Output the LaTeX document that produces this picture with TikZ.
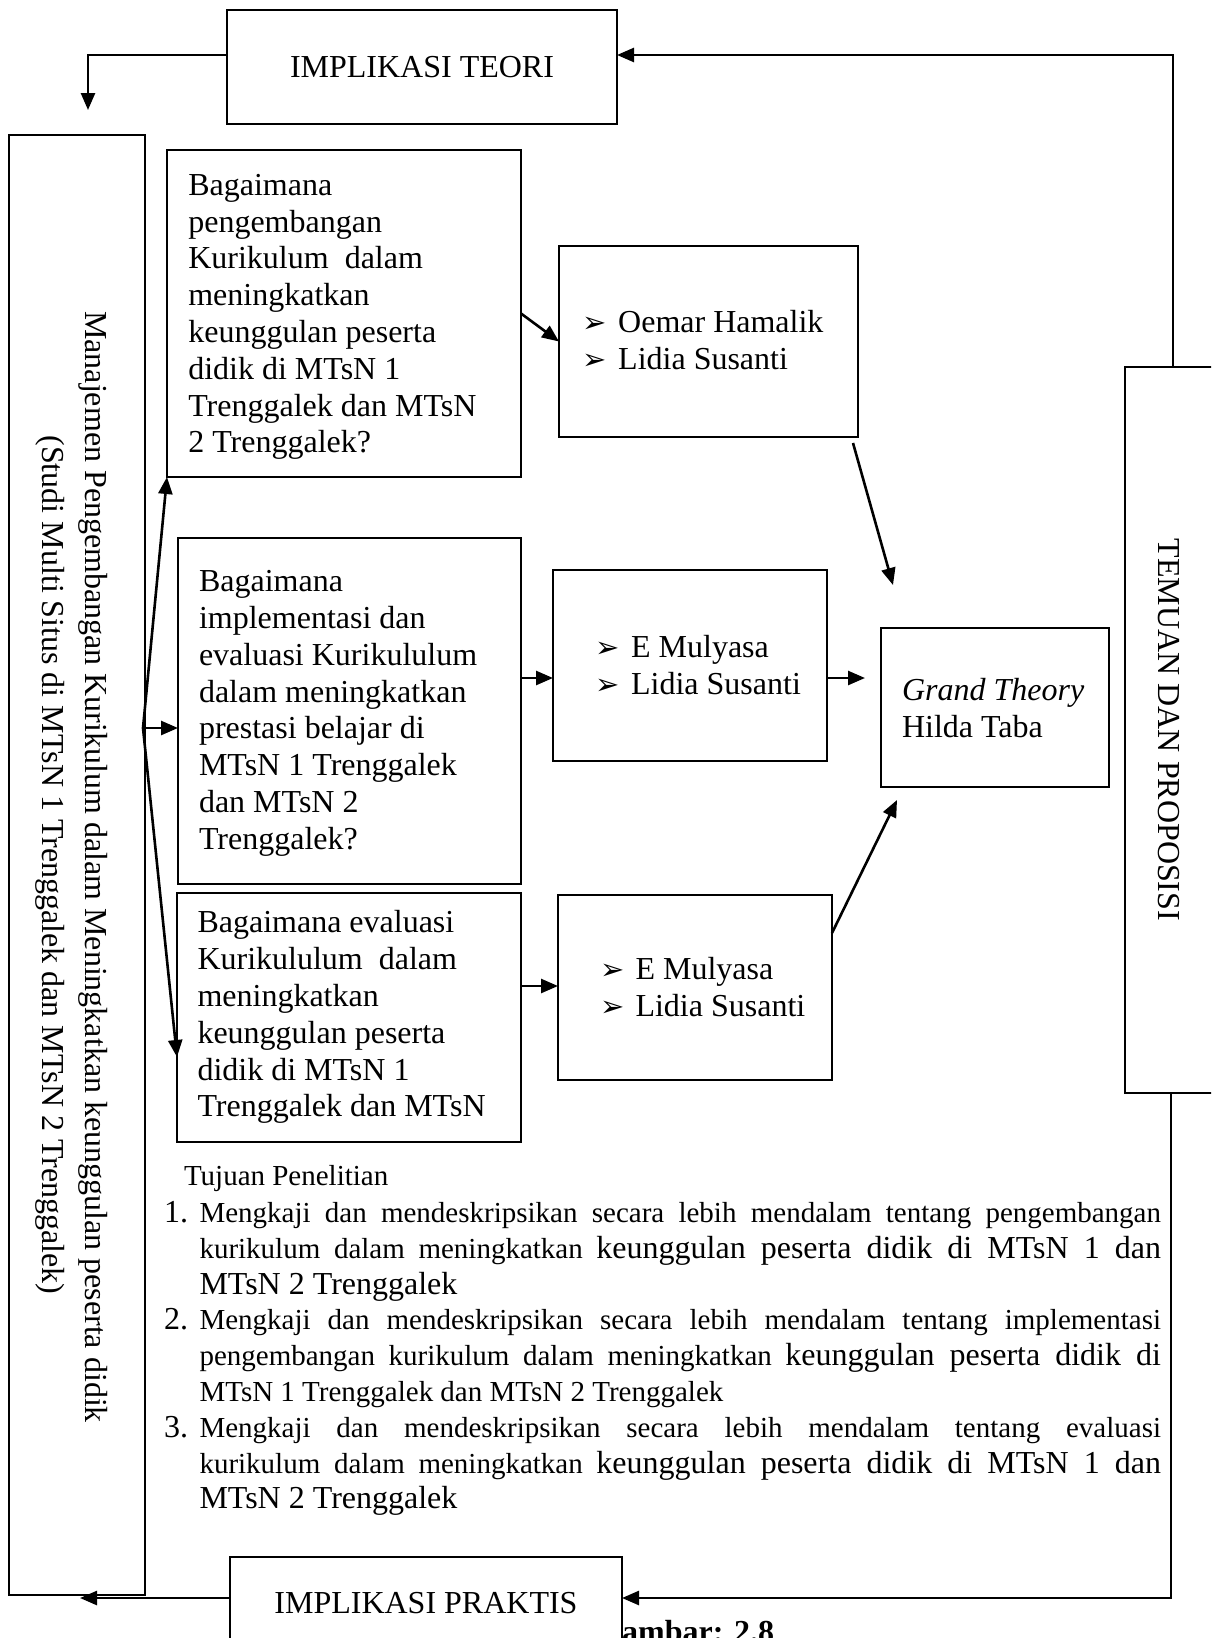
\documentclass[tikz,border=0pt]{standalone}
\usepackage{fontspec}
\setmainfont{Liberation Serif}
\newfontfamily\dejavu{DejaVu Sans}
\usetikzlibrary{arrows.meta}
\newcommand{\bigf}{\fontsize{32}{36.8}\selectfont}
\newcommand{\smallf}{\fontsize{29}{35.8}\selectfont}
\newcommand{\bul}{{\dejavu\fontsize{29}{29}\selectfont ➢}}
\newcommand{\bitem}[1]{\makebox[35.5pt][l]{\bul}#1}
\begin{document}
\begin{tikzpicture}[x=1pt,y=-1pt,
  box/.style={draw, line width=2.9pt, fill=white, inner sep=0pt, outer sep=0pt},
  conn/.style={line width=2.6pt, -{Triangle[length=17pt,width=14pt]}},
  txt/.style={inner sep=0pt, outer sep=0pt, font=\bigf, align=left, anchor=north west},
  lst/.style={inner sep=0pt, outer sep=0pt, anchor=base west, font=\smallf},
  rot/.style={inner sep=0pt, outer sep=0pt, rotate=-90, anchor=base, font=\bigf}]
\useasboundingbox (0,0) rectangle (1211,1638);
\clip (0,0) rectangle (1211,1638);
\fill[white] (0,0) rectangle (1211,1638);

% left tall box
\node[box, minimum width=136pt, minimum height=1460pt] (tall) at (77,865) {};
\node[rot] (tallA) at (85,867) {Manajemen Pengembangan Kurikulum dalam Meningkatkan keunggulan peserta didik};
\node[rot] (tallB) at (42,865) {(Studi Multi Situs di MTsN 1 Trenggalek dan MTsN 2 Trenggalek)};

% top box
\node[box, minimum width=390pt, minimum height=114pt, font=\bigf] (teori) at (422,67) {IMPLIKASI TEORI};

% question boxes
\node[box, minimum width=354pt, minimum height=327pt] (q1) at (344,313.5) {};
\node[txt] (q1t) at (188.3,169.6) {\strut Bagaimana\\pengembangan\\Kurikulum~ dalam\\meningkatkan\\keunggulan peserta\\didik di MTsN 1\\Trenggalek dan MTsN\\2 Trenggalek?};
\node[box, minimum width=343pt, minimum height=346pt] (q2) at (349.5,711) {};
\node[txt] (q2t) at (199,565.9) {\strut Bagaimana\\implementasi dan\\evaluasi Kurikululum\\dalam meningkatkan\\prestasi belajar di\\MTsN 1 Trenggalek\\dan MTsN 2\\Trenggalek?};
\node[box, minimum width=344pt, minimum height=249pt] (q3) at (349,1017.5) {};
\node[txt] (q3t) at (197.5,907.2) {\strut Bagaimana evaluasi\\Kurikululum~ dalam\\meningkatkan\\keunggulan peserta\\didik di MTsN 1\\Trenggalek dan MTsN};

% author boxes
\node[box, minimum width=299pt, minimum height=191pt] (a1) at (708.5,341.5) {};
\node[txt] (a1t) at (582.7,307.2) {\strut\bitem{Oemar Hamalik}\\\bitem{Lidia Susanti}};
\node[box, minimum width=274pt, minimum height=191pt] (a2) at (690,665.5) {};
\node[txt] (a2t) at (595.6,632.2) {\strut\bitem{E Mulyasa}\\\bitem{Lidia Susanti}};
\node[box, minimum width=274pt, minimum height=185pt] (a3) at (695,987.5) {};
\node[txt] (a3t) at (600,954.2) {\strut\bitem{E Mulyasa}\\\bitem{Lidia Susanti}};

% grand theory
\node[box, minimum width=228pt, minimum height=159pt] (gt) at (995,707.5) {};
\node[txt] (gtt) at (902,674.7) {\strut\textit{Grand Theory}\\Hilda Taba};

% right box
\node[box, minimum width=115pt, minimum height=726pt] (temuan) at (1182.5,730) {};
\node[rot] (temuanT) at (1158,730) {TEMUAN DAN PROPOSISI};

% tujuan penelitian
\node[lst] (tuj) at (184,1185) {Tujuan Penelitian};
\node[lst, font=\bigf] (n1) at (164,1222.5) {1.};
\node[lst, font=\bigf] (n2) at (164,1329.9) {2.};
\node[lst, font=\bigf] (n3) at (164,1437.3) {3.};
\node[lst] (l1a) at (199.5,1222.5) {\makebox[961.5pt][s]{Mengkaji dan mendeskripsikan secara lebih mendalam tentang pengembangan}};
\node[lst] (l1b) at (199.5,1258.3) {\makebox[961.5pt][s]{kurikulum dalam meningkatkan {\bigf keunggulan peserta didik di MTsN 1 dan}}};
\node[lst, font=\bigf] (l1c) at (199.5,1294.1) {MTsN 2 Trenggalek};
\node[lst] (l2a) at (199.5,1329.9) {\makebox[961.5pt][s]{Mengkaji dan mendeskripsikan secara lebih mendalam tentang implementasi}};
\node[lst] (l2b) at (199.5,1365.7) {\makebox[961.5pt][s]{pengembangan kurikulum dalam meningkatkan {\bigf keunggulan peserta didik di}}};
\node[lst] (l2c) at (199.5,1401.5) {MTsN 1 Trenggalek dan MTsN 2 Trenggalek};
\node[lst] (l3a) at (199.5,1437.3) {\makebox[961.5pt][s]{Mengkaji dan mendeskripsikan secara lebih mendalam tentang evaluasi}};
\node[lst] (l3b) at (199.5,1473.1) {\makebox[961.5pt][s]{kurikulum dalam meningkatkan {\bigf keunggulan peserta didik di MTsN 1 dan}}};
\node[lst, font=\bigf] (l3c) at (199.5,1508.9) {MTsN 2 Trenggalek};

% caption (partly hidden) and bottom box
\node[inner sep=0pt, anchor=base west, font=\bigf\bfseries] (gambar) at (597,1642) {Gambar: 2.8};
\node[box, minimum width=392pt, minimum height=92pt, font=\bigf] (praktis) at (426,1603) {IMPLIKASI PRAKTIS};

% feedback loops
\coordinate (tr) at (1173,55);
\draw[conn] (temuan.north -| tr) -- (tr) -- (teori.east |- tr);
\coordinate (tl) at (88,55);
\coordinate (tlend) at (88,110);
\draw[conn] (teori.west |- tl) -- (tl) -- (tlend);
\coordinate (br) at (1171,1598);
\draw[conn] (temuan.south -| br) -- (br) -- (praktis.east |- br);
\coordinate (bl) at (80,1598);
\draw[conn] (praktis.west |- br) -- (bl);

% fan from left box
\coordinate (fan) at (143,728);
\draw[conn] (fan) -- (q1.south west);
\draw[conn] (fan) -- (q2.west |- fan);
\coordinate (f3) at (0,1057);
\draw[conn] (fan) -- (q3.west |- f3);

% questions to authors
\draw[conn] (q1.east) -- (a1.west);
\coordinate (row2) at (0,678);
\draw[conn] (q2.east |- row2) -- (a2.west |- row2);
\coordinate (row3) at (0,986);
\draw[conn] (q3.east |- row3) -- (a3.west |- row3);

% authors to grand theory
\coordinate (a1out) at (853,443);
\coordinate (gt1) at (893,585);
\draw[conn] (a1out) -- (gt1);
\coordinate (gt2) at (865,678);
\draw[conn] (a2.east |- row2) -- (gt2);
\coordinate (a3y) at (0,933);
\coordinate (gt3) at (897,800);
\draw[conn] (a3.east |- a3y) -- (gt3);
\end{tikzpicture}
\end{document}
